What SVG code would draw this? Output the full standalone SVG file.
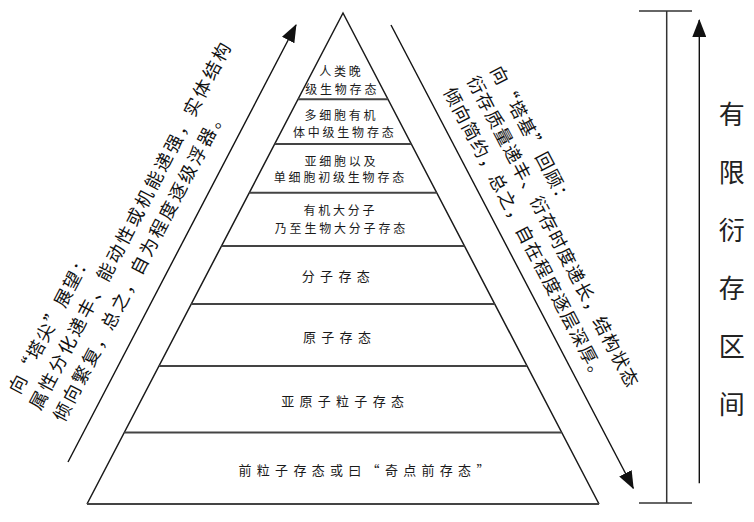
<svg xmlns="http://www.w3.org/2000/svg" width="754" height="522" viewBox="0 0 754 522">
<style>
.edge{fill:none;stroke:#1a1a1a;stroke-width:1.5}
.layer{stroke:#444;stroke-width:2;fill:none}
.lab{font-family:"Noto Sans CJK SC","Noto Sans CJK JP",sans-serif;font-size:12px;letter-spacing:2.8px;fill:#1a1a1a;text-anchor:middle}
.lab2{font-family:"Noto Sans CJK SC","Noto Sans CJK JP",sans-serif;font-size:13px;letter-spacing:5.3px;fill:#1a1a1a;text-anchor:middle}
.diag{font-family:"Noto Sans CJK SC","Noto Sans CJK JP",sans-serif;font-size:18px;fill:#111}
.vert{font-family:"Noto Sans CJK SC","Noto Sans CJK JP",sans-serif;font-size:26px;fill:#222;text-anchor:middle}
.arr{fill:none;stroke:#111;stroke-width:1.4}
.brk{fill:none;stroke:#333;stroke-width:1.5}
</style>
<defs>
<marker id="ah" viewBox="0 0 18 14" refX="17" refY="7" markerWidth="18" markerHeight="14" markerUnits="userSpaceOnUse" orient="auto">
<path d="M0,0 L18,7 L0,14 z" fill="#111"/>
</marker>
</defs>
<rect width="754" height="522" fill="#fff"/>

<g id="pyramid">
<path class="edge" d="M87,504 L343,13 L599,504"/>
<line class="layer" x1="87" y1="504" x2="599" y2="504"/>
</g>

<g id="layer1">
<line class="layer" x1="298" y1="99.3" x2="388" y2="99.3"/>
<text class="lab" x="341.4" y="76.3">人类晚</text>
<text class="lab" x="342.2" y="93.9">级生物存态</text>
</g>
<g id="layer2">
<line class="layer" x1="274.7" y1="144" x2="411.3" y2="144"/>
<text class="lab" x="341.4" y="119.6">多细胞有机</text>
<text class="lab" x="344.7" y="136.9">体中级生物存态</text>
</g>
<g id="layer3">
<line class="layer" x1="249.3" y1="192.7" x2="436.7" y2="192.7"/>
<text class="lab" x="341.4" y="165.6">亚细胞以及</text>
<text class="lab" x="340.4" y="182.3">单细胞初级生物存态</text>
</g>
<g id="layer4">
<line class="layer" x1="221.5" y1="246" x2="464.5" y2="246"/>
<text class="lab" x="340.4" y="215.3">有机大分子</text>
<text class="lab" x="341.4" y="233.3">乃至生物大分子存态</text>
</g>
<g id="layer5">
<line class="layer" x1="191.3" y1="304" x2="494.7" y2="304"/>
<text class="lab2" x="338.4" y="281">分子存态</text>
</g>
<g id="layer6">
<line class="layer" x1="159" y1="366" x2="527" y2="366"/>
<text class="lab2" x="339.6" y="341.6">原子存态</text>
</g>
<g id="layer7">
<line class="layer" x1="124.3" y1="432.5" x2="561.7" y2="432.5"/>
<text class="lab2" x="345.2" y="405.6">亚原子粒子存态</text>
</g>
<g id="layer8">
<text class="lab2" x="366.6" y="475">前粒子存态或曰“奇点前存态”</text>
</g>

<g id="connectors">
<line class="arr" x1="68" y1="462" x2="296" y2="25" marker-end="url(#ah)"/>
<line class="arr" x1="391" y1="25" x2="633.3" y2="488.3" marker-end="url(#ah)"/>
<line class="arr" x1="699.3" y1="483.3" x2="699.3" y2="20" marker-end="url(#ah)"/>
</g>

<g id="bracket">
<line class="brk" x1="666.7" y1="11" x2="666.7" y2="503"/>
<line class="brk" x1="639" y1="11" x2="692" y2="11"/>
<line class="brk" x1="639" y1="503" x2="692" y2="503"/>
</g>

<g id="left-note" transform="rotate(-62.3)">
<text class="diag" x="-341" y="201" letter-spacing="1.5">向“塔尖”展望：</text>
<text class="diag" x="-345.4" y="226.8" letter-spacing="2.7">属性分化递丰、能动性或机能递强，实体结构</text>
<text class="diag" x="-344.8" y="253.3" letter-spacing="2.7">倾向繁复，总之，自为程度逐级浮器。</text>
</g>

<g id="right-note" transform="rotate(62.4)">
<text class="diag" x="289.2" y="-401.6" letter-spacing="1.4">向“塔基”回顾：</text>
<text class="diag" x="287.2" y="-376.3" letter-spacing="1.4">衍存质量递丰、衍存时度递长，结构状态</text>
<text class="diag" x="286.7" y="-350.1" letter-spacing="1.4">倾向简约，总之，自在程度逐层深厚。</text>
</g>

<g id="interval-label">
<text class="vert" x="731.7" y="124">有</text>
<text class="vert" x="731.7" y="182">限</text>
<text class="vert" x="731.7" y="240">衍</text>
<text class="vert" x="731.7" y="298">存</text>
<text class="vert" x="731.7" y="356">区</text>
<text class="vert" x="731.7" y="414">间</text>
</g>
</svg>
